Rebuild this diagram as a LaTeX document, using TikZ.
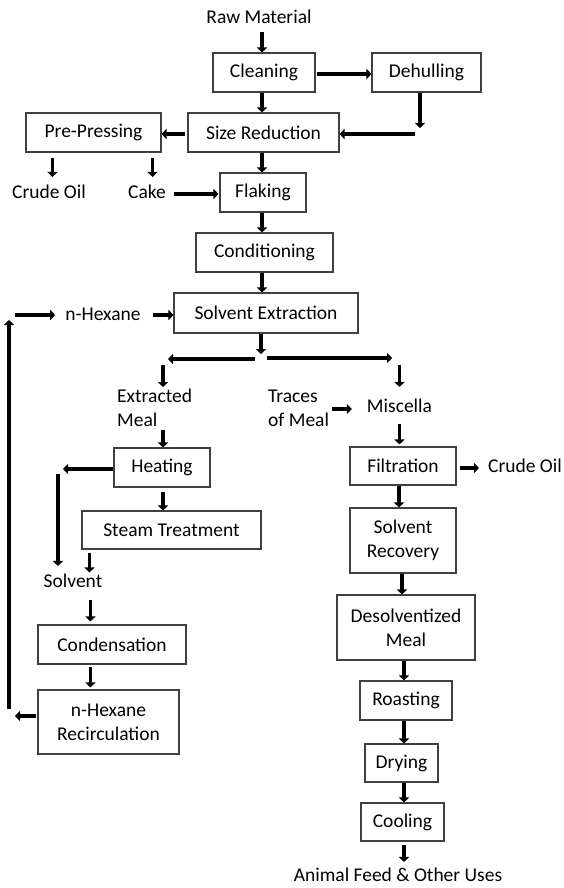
\documentclass[tikz,border=0pt]{standalone}
\usepackage{fontspec}
\setmainfont{Carlito}
\usetikzlibrary{arrows.meta,calc}
\begin{document}
\begin{tikzpicture}[x=1pt,y=-1pt,
  every node/.style={font=\fontsize{19.5}{24}\selectfont, text=black},
  box/.style={draw=black!75, line width=1.1pt, inner sep=0pt, minimum height=39pt, align=center},
  txt/.style={inner sep=0pt},
  lbl/.style={inner sep=0pt, align=left},
  arr/.style={line width=3.8pt, -{Triangle[length=5pt,width=10pt]}},
]
\fill[white] (0,0) rectangle (564,888);
\useasboundingbox (0,0) rectangle (564,888);

% nodes
\node[txt] (raw) at (259,17) {Raw Material};
\node[box, minimum width=102pt] (clean) at (264,72.5) {Cleaning};
\node[box, minimum width=109pt] (dehull) at (426.5,72.5) {Dehulling};
\node[box, minimum width=151pt] (sizered) at (263.5,132.5) {Size Reduction};
\node[box, minimum width=135pt] (prepress) at (93.5,132.5) {Pre-Pressing};
\node[txt] (crude1) at (49,192) {Crude Oil};
\node[txt] (cake) at (147,192) {Cake};
\node[box, minimum width=86pt] (flaking) at (263,192.5) {Flaking};
\node[box, minimum width=137pt] (cond) at (264.5,252.5) {Conditioning};
\node[box, minimum width=184pt, minimum height=40pt] (solvext) at (266,313) {Solvent Extraction};
\node[txt] (nhex) at (103,314) {n-Hexane};
\node[lbl, anchor=north west] (extr) at (117,389) {Extracted\\Meal};
\node[lbl, anchor=west] (traces) at (268,408) {Traces\\of Meal};
\node[txt] (misc) at (399.5,406) {Miscella};
\node[box, minimum width=96pt] (heating) at (162,467.5) {Heating};
\node[box, minimum width=179pt, minimum height=38pt] (steam) at (171.5,530) {Steam Treatment};
\node[txt] (solvent) at (73,581) {Solvent};
\node[box, minimum width=148pt] (condens) at (112,644.5) {Condensation};
\node[box, minimum width=141pt, minimum height=64pt] (nhexrec) at (108.5,722) {n-Hexane\\Recirculation};
\node[box, minimum width=106pt, minimum height=38pt] (filtr) at (403,466) {Filtration};
\node[txt] (crude2) at (525,466) {Crude Oil};
\node[box, minimum width=106pt, minimum height=65pt] (solrec) at (403,540.5) {Solvent\\Recovery};
\node[box, minimum width=138pt, minimum height=65pt] (desolv) at (406,627.5) {Desolventized\\Meal};
\node[box, minimum width=92pt] (roast) at (406,700.5) {Roasting};
\node[box, minimum width=73pt, minimum height=38pt] (drying) at (401.5,763) {Drying};
\node[box, minimum width=83pt, minimum height=38pt] (cooling) at (402.5,822) {Cooling};
\node[txt] (animal) at (398,875) {Animal Feed \& Other Uses};

% free-end coordinates
\coordinate (dhA) at (420,128);
\coordinate (dhB) at (415,134);
\coordinate (fork) at (261,359);
\coordinate (forkL) at (168,359);
\coordinate (forkR) at (392,358);
\coordinate (retB) at (9,709);
\coordinate (retT) at (9,320);
\coordinate (retH) at (15,315);
\coordinate (hL) at (63,469);
\coordinate (vT) at (58,474);
\coordinate (nrL) at (15,716);

% main column
\draw[arr] ([xshift=3pt,yshift=-8pt]raw.south) -- ([xshift=3pt]raw.south |- clean.north);
\draw[arr, shorten <=1pt] ([yshift=-1.5pt]clean.east) -- ([yshift=-1.5pt]dehull.west);
\draw[arr] ([xshift=-6.5pt]dehull.south) -- (dhA);
\draw[arr] (dhB) -- (dhB -| sizered.east);
\draw[arr] ([xshift=-2pt]clean.south) -- ([xshift=-2pt]clean.south |- sizered.north);
\draw[arr, shorten <=2pt] ([yshift=-1.5pt]sizered.west) -- ([yshift=-1.5pt]prepress.east);
\draw[arr] ([xshift=27pt,yshift=-5pt]prepress.south west) -- ([xshift=27pt,yshift=8pt]prepress.south west |- crude1.north);
\draw[arr] ([xshift=-9pt,yshift=-5pt]prepress.south east) -- ([xshift=-9pt,yshift=8pt]prepress.south east |- cake.north);
\draw[arr, shorten >=1pt] ([xshift=8pt,yshift=-2pt]cake.east) -- ([yshift=-2pt]cake.east -| flaking.west);
\draw[arr] ([xshift=-1.5pt]sizered.south) -- ([xshift=-1.5pt]sizered.south |- flaking.north);
\draw[arr] ([xshift=-1pt]flaking.south) -- ([xshift=-1pt]flaking.south |- cond.north);
\draw[arr] ([xshift=-2.5pt]cond.south) -- ([xshift=-2.5pt]cond.south |- solvext.north);

% solvent loop
\draw[arr, line width=4.5pt] (retB) -- (retT);
\draw[arr, shorten >=10pt] (retH) -- (retH -| nhex.west);
\draw[arr, shorten <=12pt] ([yshift=-1pt]nhex.east) -- ([yshift=-1pt]nhex.east -| solvext.west);
\draw[arr] ([xshift=-5pt]solvext.south) -- ([yshift=5pt]fork);
\draw[arr] ([xshift=-6pt]fork) -- (forkL);
\draw[arr] ([xshift=6pt,yshift=1pt]fork) -- (forkR);

% left branch
\draw[arr] ([xshift=1pt,yshift=-6pt]heating.north |- fork) -- ([xshift=1pt,yshift=2pt]heating.north |- extr.north);
\draw[arr] ([xshift=1pt,yshift=-3pt]heating.north |- extr.south) -- ([xshift=1pt]heating.north);
\draw[arr] ([yshift=-1.5pt]heating.west) -- (hL);
\draw[arr, shorten >=8pt] (vT) -- (vT |- solvent.north);
\draw[arr, shorten <=4pt] ([xshift=1pt]heating.south) -- ([xshift=1pt]heating.south |- steam.north);
\draw[arr, shorten <=3pt] ([xshift=8pt]steam.south west) -- ([xshift=8pt,yshift=1.5pt]steam.south west |- solvent.north);
\draw[arr, shorten <=12pt, shorten >=3pt] ([xshift=53pt]condens.north west |- solvent.south) -- ([xshift=53pt]condens.north west);
\draw[arr, shorten <=2pt, shorten >=2pt] ([xshift=53pt]condens.south west) -- ([xshift=53pt]condens.south west |- nhexrec.north);
\draw[arr, shorten <=1pt] ([yshift=6pt]nhexrec.west) -- (nrL);

% right branch
\draw[arr] ([yshift=-6pt]misc.north |- fork) -- ([yshift=12pt]misc.north);
\draw[arr, shorten <=3pt, shorten >=15pt] ([yshift=-1pt]traces.east) -- ([yshift=-1pt]traces.east -| misc.west);
\draw[arr, shorten <=11pt, shorten >=2pt] (misc.south) -- (misc.south |- filtr.north);
\draw[arr, shorten <=3pt, shorten >=9pt] ([yshift=-2pt]filtr.east) -- ([yshift=-2pt]filtr.east -| crude2.west);
\draw[arr] ([xshift=-4pt]filtr.south) -- ([xshift=-4pt]filtr.south |- solrec.north);
\draw[arr] ([xshift=-1pt]solrec.south) -- ([xshift=-1pt]solrec.south |- desolv.north);
\draw[arr] ([xshift=-2pt]desolv.south) -- ([xshift=-2pt]desolv.south |- roast.north);
\draw[arr] ([xshift=-2pt]roast.south) -- ([xshift=-2pt]roast.south |- drying.north);
\draw[arr] ([xshift=2.5pt]drying.south) -- ([xshift=2.5pt]drying.south |- cooling.north);
\draw[arr, shorten <=3pt] ([xshift=1.5pt]cooling.south) -- ([xshift=1.5pt,yshift=6pt]cooling.south |- animal.north);
\end{tikzpicture}
\end{document}
